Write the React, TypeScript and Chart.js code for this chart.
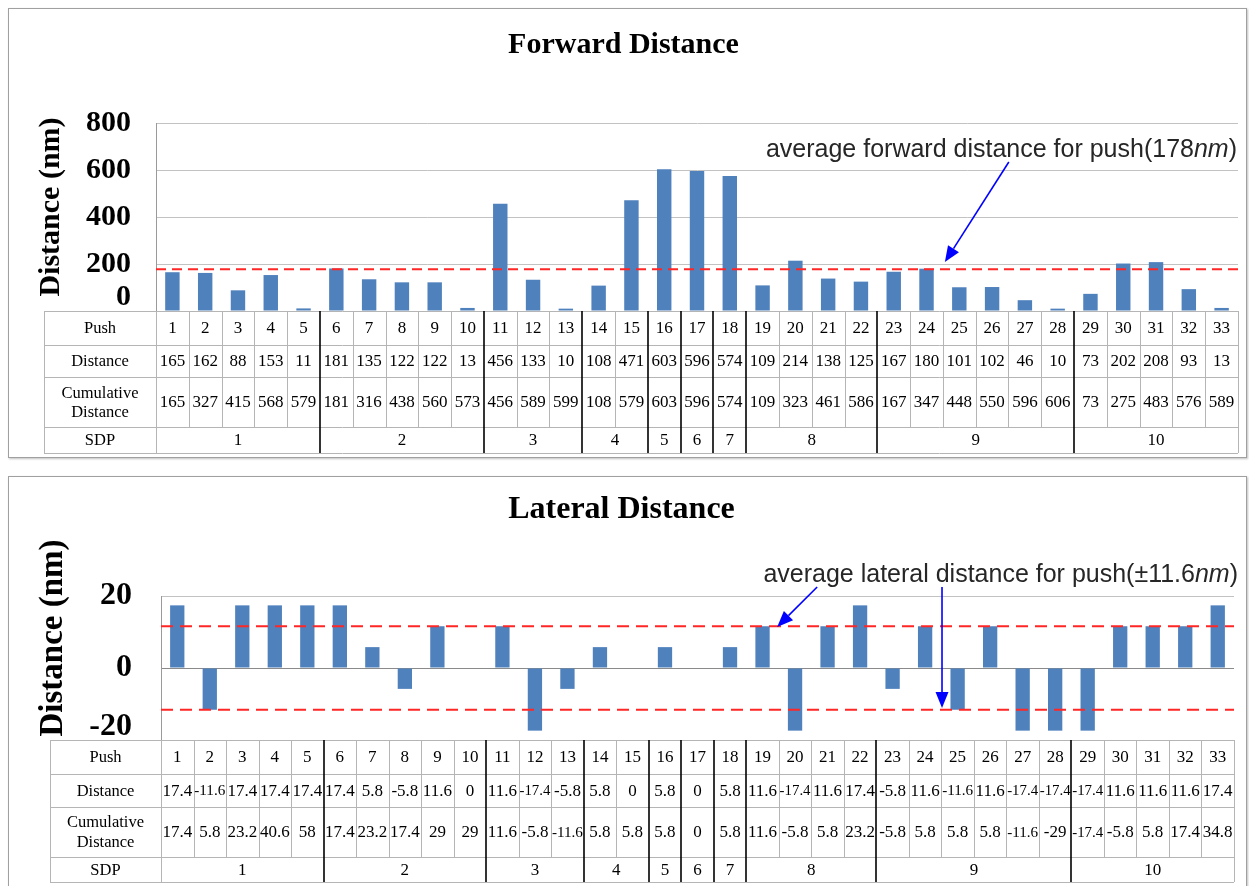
import React, { useEffect, useRef } from 'react';
import { Chart, registerables } from 'chart.js';

Chart.register(...registerables);

const SERIF = '"Liberation Serif", "Times New Roman", serif';
const SANS = '"Liberation Sans", Arial, sans-serif';

// ---------- data ----------
const pushLabels = ['1', '2', '3', '4', '5', '6', '7', '8', '9', '10', '11', '12', '13', '14', '15', '16', '17', '18', '19', '20', '21', '22', '23', '24', '25', '26', '27', '28', '29', '30', '31', '32', '33'];

const forwardDistance = [165, 162, 88, 153, 11, 181, 135, 122, 122, 13, 456, 133, 10, 108, 471, 603, 596, 574, 109, 214, 138, 125, 167, 180, 101, 102, 46, 10, 73, 202, 208, 93, 13];
const forwardCumulative = [165, 327, 415, 568, 579, 181, 316, 438, 560, 573, 456, 589, 599, 108, 579, 603, 596, 574, 109, 323, 461, 586, 167, 347, 448, 550, 596, 606, 73, 275, 483, 576, 589];
const forwardAverage = [178];
const forwardTicks = [0, 200, 400, 600, 800];

const lateralDistance = [17.4, -11.6, 17.4, 17.4, 17.4, 17.4, 5.8, -5.8, 11.6, 0, 11.6, -17.4, -5.8, 5.8, 0, 5.8, 0, 5.8, 11.6, -17.4, 11.6, 17.4, -5.8, 11.6, -11.6, 11.6, -17.4, -17.4, -17.4, 11.6, 11.6, 11.6, 17.4];
const lateralCumulative = [17.4, 5.8, 23.2, 40.6, 58, 17.4, 23.2, 17.4, 29, 29, 11.6, -5.8, -11.6, 5.8, 5.8, 5.8, 0, 5.8, 11.6, -5.8, 5.8, 23.2, -5.8, 5.8, 5.8, 5.8, -11.6, -29, -17.4, -5.8, 5.8, 17.4, 34.8];
const lateralAverage = [11.6, -11.6];
const lateralTicks = [-20, 0, 20];

const sdpLabels = ['1', '2', '3', '4', '5', '6', '7', '8', '9', '10'];
const sdpSizes = [5, 5, 3, 2, 1, 1, 1, 4, 6, 5];

const rowLabels = ['Push', 'Distance', 'Cumulative\nDistance', 'SDP'];

// ---------- panel specs ----------
interface Spec {
  title: string;
  titleSize: number;
  titlePadTop: number;
  titlePadBottom: number;
  values: number[];
  cumulative: number[];
  avg: number[];
  ticks: number[];
  tickSize: number;
  tickPad: number;
  bottomShift: number;
  axisWidth: number;
  padRight: number;
  padBottom: number;
  yTitleSize: number;
  yTitleX: number;
  yTitleY: number;
  tableLeft: number;
  rowHeights: number[];
  cumOffset: number;
  noteParts: { t: string; italic?: boolean }[];
  noteRight: number;
  noteBaseline: number;
  arrows: { from: [number, number]; to: [number, number] }[];
  dash: number[];
  width: number;
  height: number;
}

const forwardSpec: Spec = {
  title: 'Forward Distance',
  titleSize: 30,
  titlePadTop: 18,
  titlePadBottom: 60,
  values: forwardDistance,
  cumulative: forwardCumulative,
  avg: forwardAverage,
  ticks: forwardTicks,
  tickSize: 30,
  tickPad: 25,
  bottomShift: 14,
  axisWidth: 147,
  padRight: 8,
  padBottom: 146,
  yTitleSize: 30,
  yTitleX: 42,
  yTitleY: 198,
  tableLeft: 35,
  rowHeights: [34, 32, 50, 26],
  cumOffset: 9.5,
  noteParts: [{ t: 'average forward distance for push(178' }, { t: 'nm', italic: true }, { t: ')' }],
  noteRight: 1228,
  noteBaseline: 148,
  arrows: [{ from: [25.51, 634], to: [23.56, 208] }],
  dash: [10, 6],
  width: 1237,
  height: 448,
};

const lateralSpec: Spec = {
  title: 'Lateral Distance',
  titleSize: 32,
  titlePadTop: 14,
  titlePadBottom: 66.6,
  values: lateralDistance,
  cumulative: lateralCumulative,
  avg: lateralAverage,
  ticks: lateralTicks,
  tickSize: 32,
  tickPad: 29,
  bottomShift: 13,
  axisWidth: 152,
  padRight: 12,
  padBottom: 149,
  yTitleSize: 33,
  yTitleX: 44,
  yTitleY: 161,
  tableLeft: 41,
  rowHeights: [34, 33, 50, 25],
  cumOffset: 10,
  noteParts: [{ t: 'average lateral distance for push(\u00B111.6' }, { t: 'nm', italic: true }, { t: ')' }],
  noteRight: 1229,
  noteBaseline: 105,
  arrows: [
    { from: [19.68, 22.5], to: [18.45, 11.4] },
    { from: [23.52, 22.5], to: [23.52, -11.1] },
  ],
  dash: [12, 7],
  width: 1237,
  height: 412,
};

function crisp(v: number) {
  return Math.round(v) + 0.5;
}

function makePlugins(spec: Spec) {
  const avgPlugin = {
    id: 'avgLines',
    afterDatasetsDraw(chart: any) {
      const { ctx, chartArea: a } = chart;
      const y = chart.scales.y;
      ctx.save();
      ctx.strokeStyle = '#ff2626';
      ctx.lineWidth = 2;
      ctx.setLineDash(spec.dash);
      spec.avg.forEach((v) => {
        const py = y.getPixelForValue(v);
        ctx.beginPath();
        ctx.moveTo(a.left, py);
        ctx.lineTo(a.right, py);
        ctx.stroke();
      });
      ctx.restore();
    },
  };

  const notePlugin = {
    id: 'notes',
    afterDraw(chart: any) {
      const ctx = chart.ctx;
      const xs = chart.scales.x;
      const ys = chart.scales.y;
      ctx.save();
      // y axis title
      ctx.save();
      ctx.translate(spec.yTitleX, spec.yTitleY);
      ctx.rotate(-Math.PI / 2);
      ctx.textAlign = 'center';
      ctx.textBaseline = 'middle';
      ctx.fillStyle = '#000';
      ctx.font = `bold ${spec.yTitleSize}px ${SERIF}`;
      ctx.fillText('Distance (nm)', 0, 0);
      ctx.restore();

      // annotation text
      const size = 25;
      ctx.fillStyle = '#262626';
      ctx.textBaseline = 'alphabetic';
      ctx.textAlign = 'left';
      const widths = spec.noteParts.map((p) => {
        ctx.font = `${p.italic ? 'italic ' : ''}${size}px ${SANS}`;
        return ctx.measureText(p.t).width;
      });
      const total = widths.reduce((s, w) => s + w, 0);
      let x = spec.noteRight - total;
      spec.noteParts.forEach((p, i) => {
        ctx.font = `${p.italic ? 'italic ' : ''}${size}px ${SANS}`;
        ctx.fillText(p.t, x, spec.noteBaseline);
        x += widths[i];
      });

      // arrows
      ctx.strokeStyle = '#0000ff';
      ctx.fillStyle = '#0000ff';
      ctx.lineWidth = 1.6;
      spec.arrows.forEach((ar) => {
        const x0 = xs.getPixelForValue(ar.from[0]);
        const y0 = ys.getPixelForValue(ar.from[1]);
        const x1 = xs.getPixelForValue(ar.to[0]);
        const y1 = ys.getPixelForValue(ar.to[1]);
        const dx = x1 - x0;
        const dy = y1 - y0;
        const len = Math.hypot(dx, dy);
        const ux = dx / len;
        const uy = dy / len;
        const head = 16;
        const half = 6.5;
        const bx = x1 - ux * head;
        const by = y1 - uy * head;
        ctx.beginPath();
        ctx.moveTo(x0, y0);
        ctx.lineTo(bx, by);
        ctx.stroke();
        ctx.beginPath();
        ctx.moveTo(x1, y1);
        ctx.lineTo(bx - uy * half, by + ux * half);
        ctx.lineTo(bx + uy * half, by - ux * half);
        ctx.closePath();
        ctx.fill();
      });
      ctx.restore();
    },
  };

  const tablePlugin = {
    id: 'dataTable',
    afterDraw(chart: any) {
      const ctx = chart.ctx;
      const xs = chart.scales.x;
      const area = chart.chartArea;
      const n = pushLabels.length;
      const edges: number[] = [];
      for (let i = 0; i <= n; i++) edges.push(xs.getPixelForValue(i - 0.5));
      const rowsY: number[] = [area.bottom];
      spec.rowHeights.forEach((h) => rowsY.push(rowsY[rowsY.length - 1] + h));
      const left = spec.tableLeft;
      const right = edges[n];
      const boundaries = new Set<number>();
      let acc = 0;
      sdpSizes.forEach((s, k) => {
        acc += s;
        if (k < sdpSizes.length - 1) boundaries.add(acc);
      });

      ctx.save();
      ctx.fillStyle = '#fff';
      ctx.fillRect(left, rowsY[0], right - left, rowsY[4] - rowsY[0]);
      ctx.strokeStyle = '#b5b5b5';
      ctx.lineWidth = 1;
      const line = (x0: number, y0: number, x1: number, y1: number) => {
        ctx.beginPath();
        ctx.moveTo(x0, y0);
        ctx.lineTo(x1, y1);
        ctx.stroke();
      };
      rowsY.forEach((y) => line(left, crisp(y), right, crisp(y)));
      line(crisp(left), rowsY[0], crisp(left), rowsY[4]);
      line(crisp(edges[0]), rowsY[0], crisp(edges[0]), rowsY[4]);
      line(crisp(right), rowsY[0], crisp(right), rowsY[4]);
      for (let i = 1; i < n; i++) {
        if (!boundaries.has(i)) line(crisp(edges[i]), rowsY[0], crisp(edges[i]), rowsY[3]);
      }
      ctx.strokeStyle = '#000';
      ctx.lineWidth = 1.6;
      boundaries.forEach((b) => line(Math.round(edges[b]), rowsY[0], Math.round(edges[b]), rowsY[4]));

      // text
      ctx.fillStyle = '#000';
      ctx.textAlign = 'center';
      ctx.textBaseline = 'middle';
      const fit = (text: string, cx: number, cy: number, maxW: number, size: number) => {
        ctx.font = `${size}px ${SERIF}`;
        const w = ctx.measureText(text).width;
        if (w > maxW) {
          ctx.font = `${(size * maxW) / w}px ${SERIF}`;
        }
        ctx.fillText(text, cx, cy);
      };
      const labelCx = (left + edges[0]) / 2;
      rowLabels.forEach((lab, r) => {
        const cy = (rowsY[r] + rowsY[r + 1]) / 2 + 1;
        const lines = lab.split('\n');
        if (lines.length === 1) {
          fit(lab, labelCx, cy, edges[0] - left - 4, 16.5);
        } else {
          fit(lines[0], labelCx, cy - spec.cumOffset, edges[0] - left - 4, 16.5);
          fit(lines[1], labelCx, cy + spec.cumOffset, edges[0] - left - 4, 16.5);
        }
      });
      const rowsData = [pushLabels, spec.values.map((v) => String(v)), spec.cumulative.map((v) => String(v))];
      rowsData.forEach((row, r) => {
        const cy = (rowsY[r] + rowsY[r + 1]) / 2 + 1;
        row.forEach((t, i) => {
          const cx = (edges[i] + edges[i + 1]) / 2;
          fit(t, cx, cy, edges[i + 1] - edges[i] - 1.5, 17);
        });
      });
      let start = 0;
      const cySdp = (rowsY[3] + rowsY[4]) / 2 + 1;
      sdpSizes.forEach((s, k) => {
        const cx = (edges[start] + edges[start + s]) / 2;
        fit(sdpLabels[k], cx, cySdp, edges[start + s] - edges[start] - 2, 17);
        start += s;
      });
      ctx.restore();
    },
  };

  return [avgPlugin, tablePlugin, notePlugin];
}

function buildConfig(spec: Spec): any {
  const yMin = spec.ticks[0];
  const yMax = spec.ticks[spec.ticks.length - 1];
  const step = spec.ticks[1] - spec.ticks[0];
  return {
    type: 'bar',
    data: {
      labels: pushLabels,
      datasets: [
        {
          data: spec.values,
          backgroundColor: '#4F81BD',
          borderColor: '#7FA3CF',
          borderWidth: 0,
          barPercentage: 0.44,
          categoryPercentage: 1,
        },
      ],
    },
    options: {
      responsive: false,
      animation: false,
      devicePixelRatio: 1,
      events: [],
      layout: { padding: { top: 0, left: 0, right: spec.padRight, bottom: spec.padBottom } },
      plugins: {
        legend: { display: false },
        tooltip: { enabled: false },
        title: {
          display: true,
          text: spec.title,
          color: '#000',
          font: { family: SERIF, size: spec.titleSize, weight: 'bold', lineHeight: 1.2 },
          padding: { top: spec.titlePadTop, bottom: spec.titlePadBottom },
        },
      },
      scales: {
        x: { display: false, offset: true },
        y: {
          min: yMin,
          max: yMax,
          ticks: {
            stepSize: step,
            autoSkip: false,
            padding: spec.tickPad,
            color: '#000',
            font: { family: SERIF, size: spec.tickSize, weight: 'bold', lineHeight: `${spec.bottomShift * 2}px` },
            callback: (v: number) => (v === yMin ? [String(v), ''] : String(v)),
          },
          grid: {
            drawTicks: false,
            lineWidth: 1,
            color: (c: any) => (c.tick && c.tick.value === 0 ? '#8a8a8a' : '#c2c2c2'),
          },
          border: { display: true, color: '#9a9a9a' },
          afterFit: (scale: any) => {
            scale.width = spec.axisWidth;
          },
        },
      },
    },
    plugins: makePlugins(spec),
  };
}

function Panel({ spec, top, height }: { spec: Spec; top: number; height: number }) {
  const ref = useRef<HTMLCanvasElement | null>(null);
  useEffect(() => {
    if (!ref.current) return;
    const chart = new Chart(ref.current, buildConfig(spec));
    return () => chart.destroy();
  }, [spec]);
  return (
    <div
      style={{
        position: 'absolute',
        left: 8,
        top,
        width: 1239,
        height,
        boxSizing: 'border-box',
        border: '1px solid #a0a0a0',
        boxShadow: '1px 1px 2px rgba(0,0,0,0.25)',
        background: '#fff',
      }}
    >
      <canvas ref={ref} width={spec.width} height={spec.height} style={{ display: 'block', width: spec.width, height: spec.height }} />
    </div>
  );
}

export default function App() {
  return (
    <div style={{ position: 'fixed', left: 0, top: 0, width: 1249, height: 886, overflow: 'hidden', background: '#fff' }}>
      <Panel spec={forwardSpec} top={8} height={450} />
      <Panel spec={lateralSpec} top={476} height={414} />
    </div>
  );
}
